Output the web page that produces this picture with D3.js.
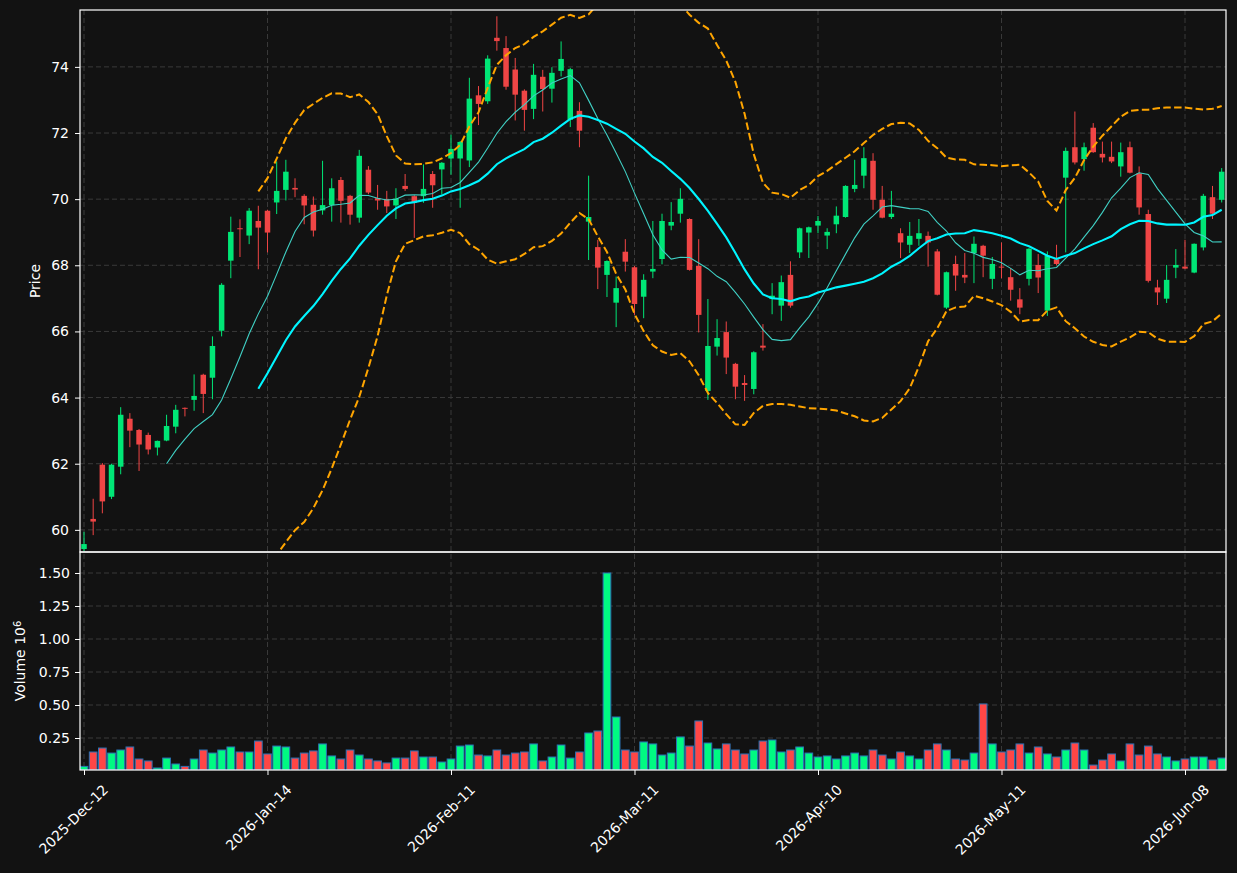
<!DOCTYPE html>
<html>
<head>
<meta charset="utf-8">
<script src="https://cdn.jsdelivr.net/npm/d3@7"></script>
<style>
  html, body { margin: 0; padding: 0; background: #121212; }
  svg { display: block; font-family: "DejaVu Sans", sans-serif; }
</style>
</head>
<body>
<svg id="chart" width="1237" height="873"></svg>
<script>
// daily OHLC + volume (volume in millions)
const opens = [59.42, 60.33, 61.97, 61.00, 61.91, 63.36, 63.02, 62.87, 62.49, 62.70, 63.12, 63.69, 63.93, 64.69, 64.60, 66.02, 68.14, 69.12, 68.90, 69.34,
  69.65, 69.90, 70.28, 70.34, 70.10, 69.83, 69.66, 69.82, 70.58, 70.10, 69.44, 70.89, 70.03, 70.00, 69.81, 70.40, 70.09, 70.09, 70.76, 70.90,
  71.23, 71.23, 71.17, 73.14, 72.96, 74.88, 74.57, 73.92, 73.28, 72.73, 73.70, 73.34, 73.88, 72.40, 72.67, 69.32, 68.55, 67.71, 66.87, 68.41,
  67.94, 67.05, 67.81, 68.19, 69.20, 69.56, 69.40, 67.98, 64.20, 65.54, 65.98, 65.02, 64.44, 64.26, 65.57, 66.98, 66.78, 67.71, 68.39, 68.99,
  69.20, 68.90, 69.24, 69.46, 70.31, 70.71, 71.16, 69.98, 69.46, 68.97, 68.62, 68.80, 68.89, 68.42, 66.72, 68.04, 67.71, 68.37, 68.59, 67.59,
  67.96, 67.64, 66.97, 67.59, 68.01, 66.63, 68.18, 70.65, 71.57, 71.21, 72.16, 71.37, 71.28, 70.99, 71.57, 70.78, 69.55, 67.33, 66.99, 67.93,
  67.96, 67.78, 68.54, 70.06, 69.98];

const highs = [59.94, 60.94, 62.02, 62.00, 63.71, 63.53, 63.05, 62.94, 62.70, 63.48, 63.78, 63.70, 64.70, 64.72, 65.85, 67.46, 69.47, 69.39, 69.73, 69.80,
  69.68, 71.14, 71.19, 70.63, 70.15, 70.08, 71.16, 70.63, 70.67, 70.13, 71.49, 71.00, 70.43, 70.25, 70.33, 70.76, 70.12, 71.05, 70.85, 71.12,
  71.95, 71.76, 73.67, 73.42, 74.35, 75.53, 74.93, 74.27, 73.32, 74.09, 73.91, 73.99, 74.77, 73.97, 72.93, 70.71, 68.77, 68.15, 67.66, 68.79,
  67.98, 67.73, 69.34, 69.56, 69.91, 70.33, 69.42, 68.79, 66.98, 66.37, 66.30, 65.05, 64.68, 65.40, 66.22, 67.46, 67.69, 68.12, 69.14, 69.17,
  69.49, 69.12, 69.78, 70.42, 71.19, 71.57, 71.39, 70.40, 70.25, 69.12, 69.31, 69.40, 69.02, 68.49, 67.81, 68.29, 68.37, 68.87, 68.62, 68.25,
  68.69, 67.91, 67.31, 68.52, 68.34, 68.42, 68.62, 71.56, 72.65, 71.71, 72.30, 71.74, 71.74, 71.71, 71.74, 70.99, 69.68, 67.56, 68.01, 68.49,
  68.77, 68.66, 70.16, 70.40, 70.94];

const lows = [59.35, 59.84, 60.50, 60.93, 61.68, 62.50, 61.78, 62.28, 62.25, 62.68, 62.92, 63.43, 63.60, 63.53, 63.95, 65.85, 67.61, 68.25, 68.64, 67.88,
  68.39, 69.55, 69.96, 70.06, 69.24, 68.87, 69.53, 69.32, 69.29, 69.23, 69.29, 70.15, 69.68, 69.58, 69.40, 70.25, 68.83, 69.89, 69.74, 70.14,
  70.74, 69.74, 70.97, 72.24, 72.88, 74.49, 73.31, 72.38, 72.07, 72.42, 72.65, 72.92, 73.71, 72.18, 71.57, 68.16, 67.28, 67.04, 66.13, 67.81,
  66.50, 66.40, 67.61, 68.03, 69.06, 69.29, 67.84, 65.97, 63.93, 65.27, 64.71, 63.95, 63.90, 64.10, 65.42, 66.52, 66.32, 66.72, 68.22, 68.22,
  68.97, 68.49, 68.97, 69.44, 70.21, 70.33, 69.68, 69.42, 69.40, 68.22, 68.37, 68.59, 67.96, 67.09, 66.68, 67.23, 67.46, 67.46, 67.64, 67.28,
  67.61, 66.93, 66.52, 67.39, 67.16, 66.47, 68.00, 68.39, 71.05, 70.86, 71.40, 71.11, 71.09, 70.68, 70.78, 69.53, 67.48, 66.80, 66.86, 67.61,
  67.88, 67.76, 68.45, 69.40, 69.90];

const closes = [59.57, 60.25, 60.86, 61.97, 63.48, 63.00, 62.58, 62.43, 62.69, 63.14, 63.63, 63.66, 64.05, 64.11, 65.56, 67.41, 69.01, 69.09, 69.65, 69.14,
  68.99, 70.25, 70.83, 70.29, 69.81, 69.05, 69.82, 70.33, 69.95, 69.53, 71.31, 70.20, 69.96, 69.78, 70.02, 70.31, 69.89, 70.31, 70.42, 71.10,
  71.52, 71.73, 73.04, 72.88, 74.25, 74.78, 73.40, 73.16, 72.70, 73.76, 73.33, 73.82, 74.24, 73.93, 72.07, 69.46, 67.93, 68.13, 67.31, 68.11,
  66.83, 67.56, 67.89, 69.34, 69.31, 70.01, 67.86, 66.50, 65.56, 65.80, 65.21, 64.33, 64.38, 65.37, 65.51, 67.08, 67.49, 66.78, 69.12, 69.15,
  69.34, 69.01, 69.50, 70.40, 70.43, 71.24, 69.98, 69.44, 69.56, 68.69, 68.89, 68.97, 68.69, 67.11, 67.79, 67.69, 67.63, 68.65, 68.29, 68.04,
  67.93, 67.26, 66.72, 68.50, 67.63, 68.29, 68.04, 71.46, 71.11, 71.57, 71.42, 71.26, 71.14, 71.42, 70.80, 69.75, 67.53, 67.18, 67.56, 68.01,
  67.90, 68.65, 70.10, 69.56, 70.83];

const volumes = [0.035, 0.144, 0.174, 0.136, 0.159, 0.182, 0.091, 0.076, 0.023, 0.098, 0.053, 0.035, 0.091, 0.159, 0.136, 0.159, 0.182, 0.144, 0.144, 0.227,
  0.129, 0.189, 0.182, 0.098, 0.136, 0.152, 0.205, 0.114, 0.091, 0.159, 0.121, 0.091, 0.076, 0.061, 0.098, 0.098, 0.152, 0.106, 0.106, 0.068,
  0.091, 0.189, 0.197, 0.121, 0.114, 0.159, 0.121, 0.136, 0.144, 0.205, 0.076, 0.106, 0.197, 0.098, 0.144, 0.288, 0.303, 1.500, 0.409, 0.159,
  0.144, 0.220, 0.205, 0.121, 0.136, 0.258, 0.189, 0.379, 0.212, 0.167, 0.205, 0.159, 0.129, 0.159, 0.227, 0.235, 0.144, 0.159, 0.182, 0.136,
  0.106, 0.114, 0.091, 0.114, 0.136, 0.114, 0.159, 0.121, 0.091, 0.144, 0.114, 0.091, 0.159, 0.205, 0.159, 0.091, 0.083, 0.136, 0.508, 0.205,
  0.144, 0.159, 0.205, 0.136, 0.182, 0.129, 0.106, 0.159, 0.212, 0.159, 0.045, 0.083, 0.129, 0.076, 0.205, 0.121, 0.189, 0.129, 0.106, 0.076,
  0.091, 0.106, 0.106, 0.083, 0.098];

const tickIndex = [0, 20, 40, 60, 80, 100, 120];
const tickLabels = ["2025-Dec-12", "2026-Jan-14", "2026-Feb-11", "2026-Mar-11", "2026-Apr-10", "2026-May-11", "2026-Jun-08"];
const priceTicks = [60, 62, 64, 66, 68, 70, 72, 74];
const volumeTicks = [0.25, 0.5, 0.75, 1.0, 1.25, 1.5];

const maShort = 10, maLong = 20, bbK = 2;

// simple moving average, null until the window is full
const sma = (arr, n) => arr.map((d, i) => i < n - 1 ? null : d3.mean(arr.slice(i - n + 1, i + 1)));
const bollinger = (arr, n, k, sign) => arr.map((d, i) => {
  if (i < n - 1) return null;
  const w = arr.slice(i - n + 1, i + 1);
  const m = d3.mean(w);
  const sd = Math.sqrt(d3.mean(w, v => (v - m) * (v - m)));
  return m + sign * k * sd;
});

const left = 80, right = 1226;
const pTop = 10, pBot = 552, vBot = 770;

const svg = d3.select("#chart");
svg.append("rect").attr("width", 1237).attr("height", 873).attr("fill", "#121212");

const x = d3.scaleLinear().domain([-0.436, 124.47]).range([left, right]);
const yP = d3.scaleLinear().domain([59.33, 75.72]).range([pBot, pTop]);
const yV = d3.scaleLinear().domain([0.0076, 1.659]).range([vBot, pBot]);

const step = x(1) - x(0);
const up = "#00e676", down = "#f04545";
const upVol = "#00fa82", downVol = "#ff4646";

const defs = svg.append("defs");
defs.append("clipPath").attr("id", "clipP").append("rect")
  .attr("x", left).attr("y", pTop).attr("width", right - left).attr("height", pBot - pTop);
defs.append("clipPath").attr("id", "clipV").append("rect")
  .attr("x", left).attr("y", pBot).attr("width", right - left).attr("height", vBot - pBot);

// grid
const grid = svg.append("g").attr("stroke", "#3a3a3a").attr("stroke-width", 1).attr("stroke-dasharray", "5,3");
priceTicks.forEach(t => grid.append("line").attr("x1", left).attr("x2", right).attr("y1", yP(t)).attr("y2", yP(t)));
volumeTicks.forEach(t => grid.append("line").attr("x1", left).attr("x2", right).attr("y1", yV(t)).attr("y2", yV(t)));
tickIndex.forEach(t => grid.append("line").attr("x1", x(t)).attr("x2", x(t)).attr("y1", pTop).attr("y2", vBot));

const idx = d3.range(closes.length);

// candles
const pg = svg.append("g").attr("clip-path", "url(#clipP)");
const candle = pg.selectAll("g.c").data(idx).join("g").attr("class", "c");
candle.append("line")
  .attr("x1", i => x(i)).attr("x2", i => x(i))
  .attr("y1", i => yP(highs[i])).attr("y2", i => yP(lows[i]))
  .attr("stroke", i => closes[i] >= opens[i] ? up : down)
  .attr("stroke-width", 1);
candle.append("rect")
  .attr("x", i => x(i) - step * 0.3)
  .attr("width", step * 0.6)
  .attr("y", i => yP(Math.max(opens[i], closes[i])))
  .attr("height", i => Math.max(1, Math.abs(yP(opens[i]) - yP(closes[i]))))
  .attr("fill", i => closes[i] >= opens[i] ? up : down);

// moving averages and bands
const line = d3.line().defined(d => d[1] != null).x(d => x(d[0])).y(d => yP(d[1]));
const series = (arr) => arr.map((v, i) => [i, v]);
pg.append("path").attr("d", line(series(bollinger(closes, maLong, bbK, 1))))
  .attr("fill", "none").attr("stroke", "#ffa500").attr("stroke-width", 2).attr("stroke-dasharray", "7.5,3.3");
pg.append("path").attr("d", line(series(bollinger(closes, maLong, bbK, -1))))
  .attr("fill", "none").attr("stroke", "#ffa500").attr("stroke-width", 2).attr("stroke-dasharray", "7.5,3.3");
pg.append("path").attr("d", line(series(sma(closes, maShort))))
  .attr("fill", "none").attr("stroke", "#40d0c4").attr("stroke-width", 1.1);
pg.append("path").attr("d", line(series(sma(closes, maLong))))
  .attr("fill", "none").attr("stroke", "#00f5ff").attr("stroke-width", 2.1);

// volume
const vg = svg.append("g").attr("clip-path", "url(#clipV)");
vg.selectAll("rect").data(idx).join("rect")
  .attr("x", i => x(i) - step * 0.42)
  .attr("width", step * 0.84)
  .attr("y", i => yV(volumes[i]))
  .attr("height", i => vBot - yV(volumes[i]))
  .attr("fill", i => closes[i] >= opens[i] ? upVol : downVol)
  .attr("stroke", "#2a72b5").attr("stroke-width", 1);

// axes
const styleAxis = g => {
  g.select(".domain").remove();
  g.selectAll(".tick line").attr("stroke", "#ffffff");
  g.selectAll(".tick text").attr("fill", "#ffffff").style("font-size", "14px").style("font-family", "DejaVu Sans");
};
svg.append("g").attr("transform", `translate(${left},0)`)
  .call(d3.axisLeft(yP).tickValues(priceTicks).tickSize(5).tickPadding(6).tickFormat(d3.format("d")))
  .call(styleAxis);
svg.append("g").attr("transform", `translate(${left},0)`)
  .call(d3.axisLeft(yV).tickValues(volumeTicks).tickSize(5).tickPadding(5).tickFormat(d3.format(".2f")))
  .call(styleAxis);
const xAxis = svg.append("g").attr("transform", `translate(0,${vBot})`)
  .call(d3.axisBottom(x).tickValues(tickIndex).tickSize(5).tickFormat((d, i) => tickLabels[i]))
  .call(styleAxis);
xAxis.selectAll(".tick text")
  .attr("text-anchor", "end")
  .attr("transform", "translate(12,8) rotate(-45)")
  .attr("dy", "0.7em").attr("dx", "0");

// frames
const frame = svg.append("g").attr("fill", "none").attr("stroke", "#ffffff").attr("stroke-width", 1.2);
frame.append("rect").attr("x", left).attr("y", pTop).attr("width", right - left).attr("height", pBot - pTop);
frame.append("rect").attr("x", left).attr("y", pBot).attr("width", right - left).attr("height", vBot - pBot);

// axis labels
svg.append("text").attr("transform", `translate(40,${(pTop + pBot) / 2}) rotate(-90)`)
  .attr("text-anchor", "middle").attr("fill", "#ffffff").style("font-size", "14px").text("Price");
const vl = svg.append("text").attr("transform", `translate(25,${(pBot + vBot) / 2}) rotate(-90)`)
  .attr("text-anchor", "middle").attr("fill", "#ffffff").style("font-size", "14px");
vl.append("tspan").text("Volume  10");
vl.append("tspan").attr("dy", "-0.45em").style("font-size", "10px").text("6");
</script>
</body>
</html>
